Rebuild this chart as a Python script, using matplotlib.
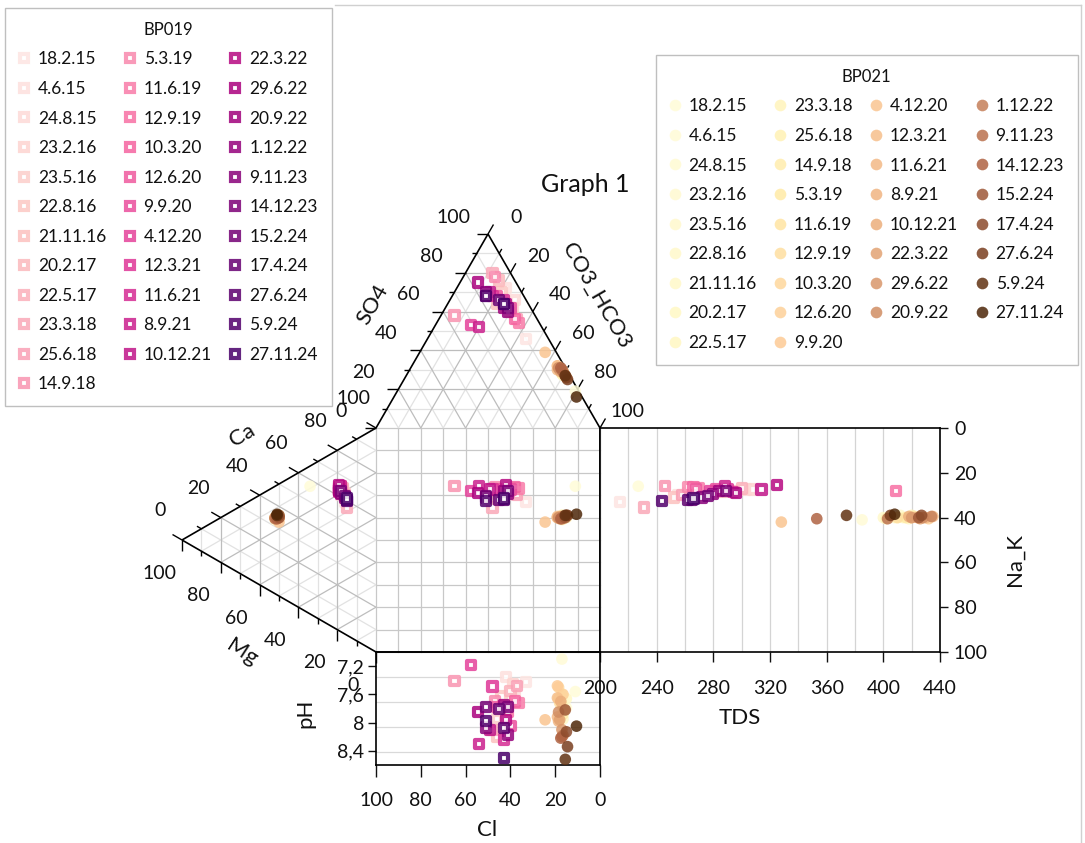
import numpy as np
import matplotlib
matplotlib.use('Agg')
import matplotlib.pyplot as plt
from matplotlib.colors import LinearSegmentedColormap
from matplotlib.lines import Line2D

W, H = 1085, 843
DPI = 100

plt.rcParams['font.family'] = ['Lato', 'DejaVu Sans']
plt.rcParams['text.color'] = '#111111'
plt.rcParams['xtick.color'] = '#111111'
plt.rcParams['ytick.color'] = '#111111'

# sampling dates (same for both wells)
dates = ['18.2.15', '4.6.15', '24.8.15', '23.2.16', '23.5.16', '22.8.16', '21.11.16',
         '20.2.17', '22.5.17', '23.3.18', '25.6.18', '14.9.18', '5.3.19', '11.6.19',
         '12.9.19', '10.3.20', '12.6.20', '9.9.20', '4.12.20', '12.3.21', '11.6.21',
         '8.9.21', '10.12.21', '22.3.22', '29.6.22', '20.9.22', '1.12.22', '9.11.23',
         '14.12.23', '15.2.24', '17.4.24', '27.6.24', '5.9.24', '27.11.24']

# BP019 (% meq) - HCO3 = 100 - Cl - SO4, Ca = 100 - Mg - Na_K
bp019_cl = [10, 6, 5, 8, 12, 9, 14, 7, 10, 8, 9, 36, 8, 9, 10, 10, 12, 9, 31, 14,
            10, 28, 14, 10, 17, 12, 11, 16, 10, 17, 12, 11, 17, 11]
bp019_so4 = [46, 72, 66, 62, 68, 70, 64, 76, 60, 80, 56, 58, 78, 54, 62, 56, 68, 62, 53, 68,
             66, 52, 70, 64, 75, 62, 60, 70, 62, 68, 66, 64, 68, 64]
bp019_mg = [16, 18, 17, 18, 16, 17, 16, 18, 17, 15, 16, 18, 19, 18, 19, 19, 19, 18, 19, 19,
            19, 18, 19, 19, 18, 19, 18, 16, 18, 16, 15, 15, 15, 15]
bp019_nak = [25, 21, 19, 18.5, 21, 19.5, 23, 19.5, 18.5, 28, 22, 17, 17, 18, 18.5, 17, 18,
             18.5, 18.5, 18, 19, 17, 18, 16, 20, 18.5, 20.5, 23, 19, 22.5, 24.5, 24.5, 25, 24]
bp019_tds = [214, 255, 303, 308, 262, 296, 252, 286, 300, 231, 258, 246, 262, 270, 409, 266,
             268, 282, 278, 290, 294, 288, 314, 325, 296, 284, 280, 272, 289, 276, 265, 262,
             244, 266]
bp019_ph = [7.42, 7.35, 7.62, 7.45, 7.95, 7.63, 8.20, 7.75, 7.55, 8.10, 7.48, 7.41, 7.70,
            7.72, 7.85, 7.70, 7.78, 8.05, 7.18, 7.49, 8.24, 8.30, 8.10, 7.96, 7.85, 7.75,
            8.18, 8.07, 7.78, 7.78, 7.81, 8.08, 7.98, 8.50]

# BP021
bp021_cl = [1.5, 3, 2, 3, 2, 3, 2, 2, 3, 2, 3, 2, 3, 2, 3, 3, 2, 3, 5, 3, 4, 3, 3, 3, 2, 3,
            2, 2, 2, 2, 2, 2, 2, 2.5]
bp021_so4 = [19, 28, 26, 28, 30, 27, 29, 26, 28, 30, 28, 29, 31, 28, 30, 31, 29, 32, 39, 32,
             30, 31, 29, 30, 30, 31, 29, 30, 31, 27, 26, 25, 27, 16]
bp021_mg = [34, 52, 50, 51, 50, 52, 51, 50, 52, 50, 51, 52, 50, 51, 50, 52, 51, 50, 50, 51,
            50, 52, 51, 51, 50, 52, 51, 52, 51, 50, 50, 51, 51, 51]
bp021_nak = [9, 15, 15, 14, 14, 14, 15, 15, 14, 14, 15, 14, 15, 14, 15, 14, 15, 15, 17, 14,
             15, 14, 14, 15, 15, 14, 14, 14.5, 15, 15, 14, 13.5, 13.5, 13]
bp021_tds = [227, 385, 410, 405, 412, 400, 418, 408, 414, 420, 402, 425, 416, 422, 410, 428,
             432, 420, 328, 435, 430, 424, 418, 426, 420, 428, 434, 403, 353, 425, 427, 405,
             374, 408]
bp021_ph = [7.56, 7.10, 7.79, 7.62, 7.70, 7.85, 7.95, 7.66, 7.90, 7.60, 7.75, 7.88, 7.66,
            7.82, 7.72, 7.50, 7.60, 7.48, 7.96, 7.65, 7.92, 7.98, 7.70, 7.96, 8.10, 7.85,
            8.18, 8.20, 8.22, 7.82, 8.13, 8.34, 8.52, 8.05]

S3 = np.sqrt(3) / 2
GRID_MAJ = '#bdbdbd'
GRID_MIN = '#e2e2e2'
SQ_GRID = '#c8c8c8'
EDGE = '#000000'
TICK_FS = 14
TITLE_FS = 16


def px_rect(x0, y0, x1, y1):
    return [x0 / W, 1 - y1 / H, (x1 - x0) / W, (y1 - y0) / H]


def ftext(x, y, s, **kw):
    fig.text(x / W, 1 - y / H, s, ha='center', va='center', **kw)


# positions in the square's data space (x: 100 left -> 0 right, y: 0 top -> 100 bottom)
def anion_xy(cl, so4):
    cl = np.asarray(cl, float)
    so4 = np.asarray(so4, float)
    return cl + so4 / 2, -S3 * so4


def cation_xy(mg, nak):
    mg = np.asarray(mg, float)
    nak = np.asarray(nak, float)
    return 100 + S3 * mg, nak + mg / 2


def seg(p, q, color, lw=0.9, z=1):
    ax.plot([p[0], q[0]], [p[1], q[1]], color=color, lw=lw, clip_on=False,
            solid_capstyle='butt', zorder=z)


fig = plt.figure(figsize=(W / DPI, H / DPI), dpi=DPI)

# outer frame lines (top and right)
fig.add_artist(Line2D([335 / W, 1081 / W], [1 - 5 / H, 1 - 5 / H], color='#d0d0d0', lw=1.0))
fig.add_artist(Line2D([1081 / W, 1081 / W], [1 - 5 / H, 0], color='#d0d0d0', lw=1.0))

# ---------------- central square + triangles ----------------
ax = fig.add_axes(px_rect(376, 428, 600, 652))
ax.set_xlim(100, 0)
ax.set_ylim(100, 0)
ax.set_xticks([])
ax.set_yticks([])
ax.patch.set_alpha(0)
for side in ('left', 'top'):
    ax.spines[side].set_visible(False)
for side in ('right', 'bottom'):
    ax.spines[side].set_linewidth(1.2)
for v in range(0, 101, 10):
    ax.plot([v, v], [0, 100], color=SQ_GRID, lw=0.9, clip_on=False, zorder=0)
    ax.plot([0, 100], [v, v], color=SQ_GRID, lw=0.9, clip_on=False, zorder=0)

for v in range(10, 100, 10):
    col = GRID_MAJ if v % 20 == 0 else GRID_MIN
    z = 0.6 if v % 20 == 0 else 0.5
    # anion triangle
    seg(anion_xy(100 - v, v), anion_xy(0, v), col, z=z)          # SO4 const
    seg(anion_xy(100 - v, 0), anion_xy(0, 100 - v), col, z=z)    # HCO3 const
    seg(anion_xy(v, 0), anion_xy(v, 100 - v), col, z=z)          # Cl const
    # cation triangle
    seg(cation_xy(v, 0), cation_xy(v, 100 - v), col, z=z)        # Mg const
    seg(cation_xy(0, 100 - v), cation_xy(100 - v, 0), col, z=z)  # Ca const
    seg(cation_xy(0, v), cation_xy(100 - v, v), col, z=z)        # Na_K const

seg(anion_xy(100, 0), anion_xy(0, 100), EDGE, lw=1.2, z=2)
seg(anion_xy(0, 0), anion_xy(0, 100), EDGE, lw=1.2, z=2)
seg(cation_xy(0, 0), cation_xy(100, 0), EDGE, lw=1.2, z=2)
seg(cation_xy(100, 0), cation_xy(0, 100), EDGE, lw=1.2, z=2)

TICK_MAJ, TICK_MIN = 4.9, 2.3
for v in range(0, 101, 10):
    L = TICK_MAJ if v % 20 == 0 else TICK_MIN
    p = anion_xy(100 - v, v)                  # SO4 on left edge
    seg(p, (p[0] + L, p[1]), EDGE, lw=1.0, z=2)
    p = anion_xy(0, 100 - v)                  # HCO3 on right edge
    seg(p, (p[0] - 0.5 * L, p[1] - S3 * L), EDGE, lw=1.0, z=2)
    p = cation_xy(100 - v, 0)                 # Ca on upper edge
    seg(p, (p[0] + S3 * L, p[1] - 0.5 * L), EDGE, lw=1.0, z=2)
    p = cation_xy(v, 100 - v)                 # Mg on lower edge
    seg(p, (p[0], p[1] + L), EDGE, lw=1.0, z=2)

lab_kw = dict(textcoords='offset points', ha='center', va='center', fontsize=TICK_FS,
              annotation_clip=False)
for v in range(0, 101, 20):
    ax.annotate(str(v), anion_xy(100 - v, v), xytext=(-25, 12), **lab_kw)
    ax.annotate(str(v), anion_xy(0, 100 - v), xytext=(20, 12), **lab_kw)
    ax.annotate(str(v), cation_xy(100 - v, 0), xytext=(-16, 21), **lab_kw)
    ax.annotate(str(v), cation_xy(v, 100 - v), xytext=(-16.5, -24), **lab_kw)

# ---------------- TDS panel ----------------
tx = fig.add_axes(px_rect(600, 428, 940, 652))
tx.set_xlim(200, 440)
tx.set_ylim(100, 0)
tx.set_xticks(range(200, 441, 40))
tx.set_xticks(range(220, 440, 40), minor=True)
tx.grid(True, axis='x', which='both', color='#d4d4d4', lw=0.9)
tx.set_axisbelow(True)
tx.yaxis.tick_right()
tx.set_yticks(range(0, 101, 20))
tx.tick_params(axis='x', which='major', direction='out', length=7, width=1.0,
               pad=13, labelsize=TICK_FS)
tx.tick_params(axis='x', which='minor', length=0)
tx.tick_params(axis='y', direction='out', length=6, width=1.0, pad=4, labelsize=TICK_FS)
for s in tx.spines.values():
    s.set_linewidth(1.2)
tx.patch.set_alpha(0)

# ---------------- pH panel ----------------
pa = fig.add_axes(px_rect(376, 652, 600, 765))
pa.set_xlim(100, 0)
pa.set_ylim(8.6, 7.0)
pa.set_xticks(range(0, 101, 20))
pa.set_yticks([7.2, 7.6, 8.0, 8.4])
pa.set_yticklabels(['7,2', '7,6', '8', '8,4'])
for g in (7.354, 7.708, 8.062, 8.416):
    pa.axhline(g, color='#d9d9d9', lw=0.9, zorder=0)
pa.tick_params(axis='x', direction='out', length=8.5, width=1.0, pad=11, labelsize=TICK_FS)
pa.tick_params(axis='y', direction='out', length=5.5, width=1.0, pad=3, labelsize=TICK_FS)
for s in pa.spines.values():
    s.set_linewidth(1.2)
pa.patch.set_alpha(0)

# ---------------- data ----------------
c019 = plt.cm.RdPu(np.linspace(0.1, 1.0, len(dates)))
cmap021 = LinearSegmentedColormap.from_list(
    'bp021', [(0, '#fffcd8'), (8 / 33, '#fff7c2'), (12 / 33, '#ffeaa6'),
              (17 / 33, '#fdcb96'), (22 / 33, '#ecae7c'), (25 / 33, '#d08d63'),
              (28 / 33, '#b06444'), (31 / 33, '#7a3f20'), (1, '#4e2709')])
c021 = cmap021(np.linspace(0, 1, len(dates)))

SQ_S, SQ_LW = 35, 3.0
CI_S = 70
ALPHA = 0.85

x019 = np.array(bp019_cl) + np.array(bp019_so4) / 2
y019 = np.array(bp019_nak) + np.array(bp019_mg) / 2
x021 = np.array(bp021_cl) + np.array(bp021_so4) / 2
y021 = np.array(bp021_nak) + np.array(bp021_mg) / 2

sq_kw = dict(marker='s', s=SQ_S, facecolors='white', edgecolors=c019,
             linewidths=SQ_LW, alpha=ALPHA, clip_on=False, zorder=5)
ci_kw = dict(marker='o', s=CI_S, c=c021, edgecolors='none', alpha=ALPHA,
             clip_on=False, zorder=5)

ax.scatter(*anion_xy(bp019_cl, bp019_so4), **sq_kw)
ax.scatter(*cation_xy(bp019_mg, bp019_nak), **sq_kw)
ax.scatter(x019, y019, **sq_kw)
tx.scatter(bp019_tds, y019, **sq_kw)
pa.scatter(x019, bp019_ph, **sq_kw)

ax.scatter(*anion_xy(bp021_cl, bp021_so4), **ci_kw)
ax.scatter(*cation_xy(bp021_mg, bp021_nak), **ci_kw)
ax.scatter(x021, y021, **ci_kw)
tx.scatter(bp021_tds, y021, **ci_kw)
pa.scatter(x021, bp021_ph, **ci_kw)

# ---------------- titles ----------------
ftext(585, 185, 'Graph 1', fontsize=18)
ftext(373, 305, 'SO4', fontsize=TITLE_FS, rotation=60)
ftext(597, 295, 'CO3_HCO3', fontsize=TITLE_FS, rotation=-60)
ftext(242, 435, 'Ca', fontsize=TITLE_FS, rotation=30)
ftext(242, 652, 'Mg', fontsize=TITLE_FS, rotation=-33)
ftext(1015, 560, 'Na_K', fontsize=TITLE_FS, rotation=90)
ftext(740, 718, 'TDS', fontsize=TITLE_FS)
ftext(305, 713, 'pH', fontsize=TITLE_FS, rotation=90)
ftext(487, 830, 'Cl', fontsize=TITLE_FS)

# ---------------- legends ----------------
h019 = [Line2D([], [], ls='none', marker='s', ms=5.9, mfc='white', mec=c, mew=3.0,
               alpha=ALPHA) for c in c019]
h021 = [Line2D([], [], ls='none', marker='o', ms=8.4, mfc=c, mec='none', alpha=ALPHA)
        for c in c021]
leg_kw = dict(fontsize=12.5, title_fontsize=12, frameon=True, fancybox=False,
              edgecolor='#bfbfbf', framealpha=1, borderaxespad=0, borderpad=0.8,
              handlelength=0.6, handletextpad=0.5, columnspacing=1.05,
              labelspacing=0.78)
leg1 = fig.legend(h019, dates, loc='upper left', bbox_to_anchor=(5 / W, 1 - 8 / H),
                  ncol=3, title='BP019', **leg_kw)
leg2 = fig.legend(h021, dates, loc='upper right', bbox_to_anchor=(1078 / W, 1 - 55 / H),
                  ncol=4, title='BP021', **leg_kw)
for leg in (leg1, leg2):
    leg.get_frame().set_linewidth(1.0)

fig.savefig('out.png', dpi=DPI)
